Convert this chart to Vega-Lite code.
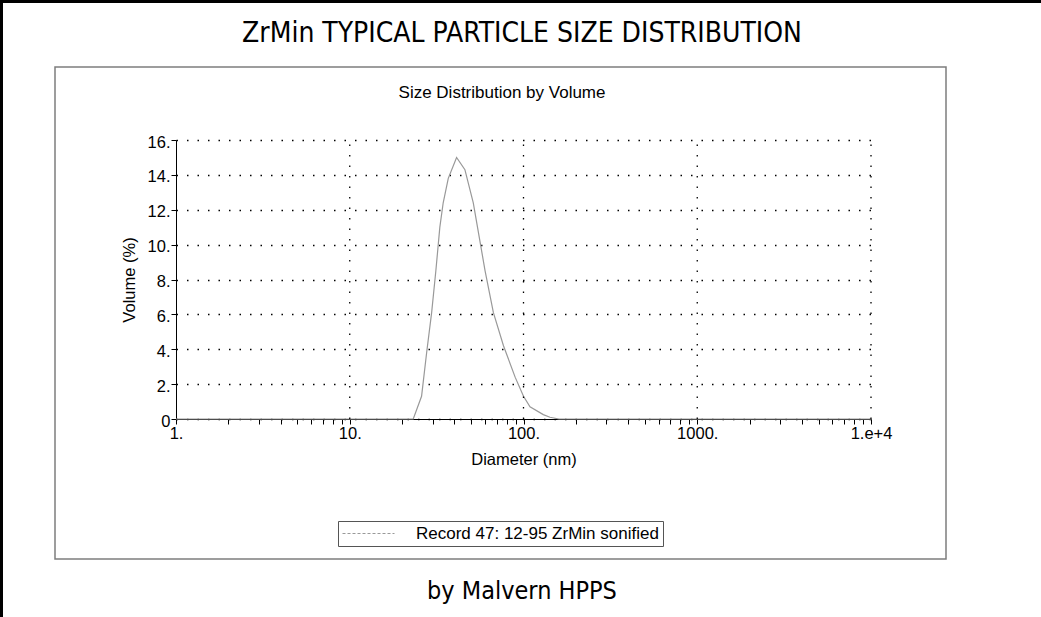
{
  "$schema": "https://vega.github.io/schema/vega-lite/v6.json",
  "width": 1041,
  "height": 617,
  "autosize": {"type": "none"},
  "padding": 0,
  "background": "white",
  "config": {
    "view": {"stroke": "black", "strokeWidth": 6, "strokeDash": [1041, 1658, 617]},
    "font": "Liberation Sans",
    "axis": {
      "labelFont": "Liberation Sans",
      "titleFont": "Liberation Sans",
      "labelColor": "black",
      "titleColor": "black",
      "tickColor": "black",
      "domainColor": "black",
      "labelFontSize": 16.5,
      "titleFontSize": 16.5,
      "titleFontWeight": "normal"
    }
  },
  "layer": [
    {
      "data": {"values": [{}]},
      "layer": [
        {
          "mark": {"type": "rect", "filled": false, "stroke": "#7d7d7d", "strokeWidth": 1.5},
          "encoding": {
            "x": {"datum": 0, "type": "quantitative", "scale": {"domain": [0, 1], "range": [55, 946], "nice": false, "zero": false}, "axis": null},
            "x2": {"datum": 1},
            "y": {"datum": 0, "type": "quantitative", "scale": {"domain": [0, 1], "range": [559, 67], "nice": false, "zero": false}, "axis": null},
            "y2": {"datum": 1}
          }
        },
        {
          "mark": {"type": "text", "text": "ZrMin TYPICAL PARTICLE SIZE DISTRIBUTION", "font": "DejaVu Sans Condensed, Liberation Sans Narrow, sans-serif", "fontSize": 28, "align": "center", "baseline": "alphabetic", "color": "black"},
          "encoding": {
            "x": {"datum": 0.5241, "type": "quantitative", "axis": null},
            "y": {"datum": 1.0518, "type": "quantitative", "axis": null}
          }
        },
        {
          "mark": {"type": "text", "text": "Size Distribution by Volume", "font": "Liberation Sans", "fontSize": 17, "align": "center", "baseline": "alphabetic", "color": "black"},
          "encoding": {
            "x": {"datum": 0.5017, "type": "quantitative", "axis": null},
            "y": {"datum": 0.937, "type": "quantitative", "axis": null}
          }
        },
        {
          "mark": {"type": "text", "text": "by Malvern HPPS", "font": "DejaVu Sans Condensed, Liberation Sans Narrow, sans-serif", "fontSize": 25, "align": "center", "baseline": "alphabetic", "color": "black"},
          "encoding": {
            "x": {"datum": 0.5241, "type": "quantitative", "axis": null},
            "y": {"datum": -0.0813, "type": "quantitative", "axis": null}
          }
        }
      ]
    },
    {
      "encoding": {
        "x": {
          "field": "d",
          "type": "quantitative",
          "scale": {"type": "log", "domain": [1, 10000], "range": [176, 871]},
          "axis": {
            "orient": "bottom",
            "offset": -198,
            "title": "Diameter (nm)",
            "titlePadding": 10,
            "grid": false,
            "values": [1, 2, 3, 4, 5, 6, 7, 8, 9, 10, 20, 30, 40, 50, 60, 70, 80, 90, 100, 200, 300, 400, 500, 600, 700, 800, 900, 1000, 2000, 3000, 4000, 5000, 6000, 7000, 8000, 9000, 10000],
            "labelExpr": "datum.value == 10000 ? '1.e+4' : (datum.value == 1 || datum.value == 10 || datum.value == 100 || datum.value == 1000) ? datum.value + '.' : ''",
            "labelOverlap": false,
            "labelFlush": false,
            "tickSize": 5,
            "labelPadding": 1
          }
        }
      },
      "layer": [
        {
          "data": {
            "values": [
              {"d": 1, "v": 0, "series": "Record 47: 12-95 ZrMin sonified"},
              {"d": 23.2, "v": 0, "series": "Record 47: 12-95 ZrMin sonified"},
              {"d": 25.9, "v": 1.3, "series": "Record 47: 12-95 ZrMin sonified"},
              {"d": 27.7, "v": 3.8, "series": "Record 47: 12-95 ZrMin sonified"},
              {"d": 29.6, "v": 6.1, "series": "Record 47: 12-95 ZrMin sonified"},
              {"d": 31.3, "v": 8.5, "series": "Record 47: 12-95 ZrMin sonified"},
              {"d": 33.0, "v": 11.0, "series": "Record 47: 12-95 ZrMin sonified"},
              {"d": 34.5, "v": 12.4, "series": "Record 47: 12-95 ZrMin sonified"},
              {"d": 36.9, "v": 13.8, "series": "Record 47: 12-95 ZrMin sonified"},
              {"d": 41.2, "v": 15.0, "series": "Record 47: 12-95 ZrMin sonified"},
              {"d": 46.0, "v": 14.3, "series": "Record 47: 12-95 ZrMin sonified"},
              {"d": 51.4, "v": 12.4, "series": "Record 47: 12-95 ZrMin sonified"},
              {"d": 60.1, "v": 8.5, "series": "Record 47: 12-95 ZrMin sonified"},
              {"d": 67.1, "v": 6.1, "series": "Record 47: 12-95 ZrMin sonified"},
              {"d": 76.7, "v": 4.2, "series": "Record 47: 12-95 ZrMin sonified"},
              {"d": 89.5, "v": 2.4, "series": "Record 47: 12-95 ZrMin sonified"},
              {"d": 100, "v": 1.3, "series": "Record 47: 12-95 ZrMin sonified"},
              {"d": 109, "v": 0.7, "series": "Record 47: 12-95 ZrMin sonified"},
              {"d": 130, "v": 0.25, "series": "Record 47: 12-95 ZrMin sonified"},
              {"d": 142, "v": 0.1, "series": "Record 47: 12-95 ZrMin sonified"},
              {"d": 160, "v": 0, "series": "Record 47: 12-95 ZrMin sonified"},
              {"d": 10000, "v": 0, "series": "Record 47: 12-95 ZrMin sonified"}
            ]
          },
          "mark": {"type": "line", "strokeWidth": 1.2},
          "encoding": {
            "y": {
              "field": "v",
              "type": "quantitative",
              "scale": {"domain": [0, 16], "range": [419, 140], "nice": false, "zero": false},
              "axis": {
                "orient": "left",
                "offset": -176,
                "title": "Volume (%)",
                "titlePadding": 10,
                "values": [0, 1, 2, 3, 4, 5, 6, 7, 8, 9, 10, 11, 12, 13, 14, 15, 16],
                "labelExpr": "datum.value == 0 ? '0' : datum.value % 2 == 0 ? datum.value + '.' : ''",
                "labelOverlap": false,
                "labelFlush": false,
                "labelOffset": 2,
                "tickSize": 5,
                "labelPadding": 1,
                "grid": true,
                "gridColor": "black",
                "gridWidth": 1.3,
                "gridDash": [1.5, 9],
                "gridOpacity": {"condition": {"test": "datum.value % 2 == 1", "value": 0}, "value": 1}
              }
            },
            "color": {
              "field": "series",
              "type": "nominal",
              "scale": {"range": ["#999999"]},
              "legend": {
                "orient": "none",
                "legendX": 338,
                "legendY": 521,
                "title": null,
                "strokeColor": "#555555",
                "padding": 4,
                "symbolType": "stroke",
                "symbolSize": 2704,
                "symbolStrokeWidth": 1,
                "symbolDash": [3, 2],
                "clipHeight": 17,
                "labelFont": "Liberation Sans",
                "labelFontSize": 17,
                "labelColor": "black",
                "labelLimit": 400,
                "labelOffset": 21
              }
            }
          }
        },
        {
          "data": {"values": [{"d": 10}, {"d": 100}, {"d": 1000}, {"d": 10000}]},
          "mark": {"type": "rule", "color": "black", "strokeWidth": 1.3, "strokeDash": [1.5, 9]},
          "encoding": {
            "y": {"datum": 0, "type": "quantitative"},
            "y2": {"datum": 16}
          }
        }
      ]
    }
  ],
  "resolve": {
    "scale": {"x": "independent", "y": "independent"},
    "axis": {"x": "independent", "y": "independent"}
  }
}
